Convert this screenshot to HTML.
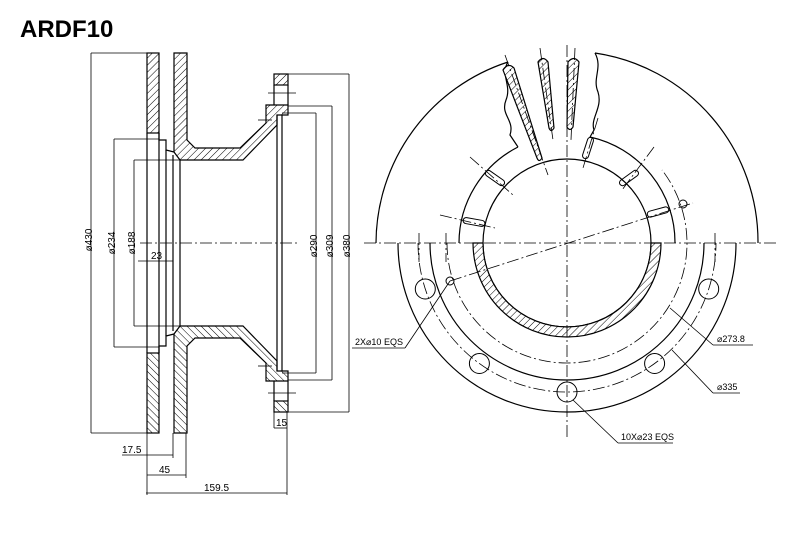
<!DOCTYPE html>
<html><head><meta charset="utf-8"><style>
html,body{margin:0;padding:0;background:#fff;width:800px;height:547px;overflow:hidden}
svg{display:block}
text{font-family:"Liberation Sans",sans-serif;fill:#000}
</style></head><body>
<svg width="800" height="547" viewBox="0 0 800 547" xmlns="http://www.w3.org/2000/svg">
<defs>
<pattern id="h" width="5" height="5" patternUnits="userSpaceOnUse" patternTransform="rotate(45)">
<rect width="5" height="5" fill="#fff"/><line x1="0" y1="0" x2="0" y2="5" stroke="#000" stroke-width="1"/>
</pattern>
</defs>
<text x="20" y="37" font-size="24" font-weight="bold">ARDF10</text>

<g fill="none" stroke="#000" stroke-width="1.2">
<!-- LEFT VIEW upper half -->
<g id="up">
<rect x="147" y="53" width="12" height="80" fill="url(#h)"/>
<polygon points="174,53 187,53 187,140 195,148 240,148 266,123 266,105 288,105 288,115 277,115 277,125 243,160 180,160 174,152" fill="url(#h)"/>
<rect x="274" y="74" width="14" height="11" fill="url(#h)"/>
<polyline points="274,85 274,105"/><polyline points="288,85 288,105"/>
<polyline points="159,133 159,140 166,140 166,150 174,152"/>
<line x1="159" y1="133" x2="159" y2="243"/>
<line x1="166" y1="150" x2="166" y2="243"/>
<line x1="173" y1="155" x2="173" y2="243"/>
<line x1="277" y1="115" x2="277" y2="243"/>
<line x1="282" y1="115" x2="282" y2="243"/>
<line x1="147" y1="133" x2="147" y2="243"/>
<line x1="180" y1="160" x2="180" y2="243"/>
<g stroke-width="0.8">
<line x1="91" y1="53" x2="147" y2="53"/>
<line x1="114" y1="139" x2="159" y2="139"/>
<line x1="134" y1="160" x2="180" y2="160"/>
<line x1="282" y1="113" x2="316" y2="113"/>
<line x1="288" y1="106" x2="332" y2="106"/>
<line x1="288" y1="74" x2="349" y2="74"/>
<line x1="268" y1="93" x2="296" y2="93"/>
<line x1="258" y1="120" x2="272" y2="120"/>
</g>
</g>
<use href="#up" transform="translate(0,486) scale(1,-1)"/>
<!-- dims -->
<g stroke-width="0.8">
<line x1="91" y1="53" x2="91" y2="433"/>
<line x1="114" y1="139" x2="114" y2="347"/>
<line x1="134" y1="160" x2="134" y2="326"/>
<line x1="316" y1="113" x2="316" y2="373"/>
<line x1="332" y1="106" x2="332" y2="380"/>
<line x1="349" y1="74" x2="349" y2="412"/>
<line x1="138" y1="261" x2="173" y2="261"/>
<line x1="122" y1="455" x2="173" y2="455"/>
<line x1="147" y1="475" x2="186" y2="475"/>
<line x1="146" y1="493" x2="287" y2="493"/>
<line x1="147" y1="433" x2="147" y2="495"/>
<line x1="173" y1="433" x2="173" y2="458"/>
<line x1="186" y1="433" x2="186" y2="478"/>
<line x1="287" y1="412" x2="287" y2="495"/>
<line x1="274" y1="412" x2="274" y2="428"/>
<line x1="274" y1="428" x2="287" y2="428"/>
<line x1="140" y1="243" x2="298" y2="243" stroke-dasharray="12,3,2,3"/>
</g>
</g>
<g font-size="10">
<text transform="translate(92,240) rotate(-90)" text-anchor="middle">ø430</text>
<text transform="translate(115,243) rotate(-90)" text-anchor="middle">ø234</text>
<text transform="translate(135,243) rotate(-90)" text-anchor="middle">ø188</text>
<text transform="translate(317,246) rotate(-90)" text-anchor="middle">ø290</text>
<text transform="translate(333,246) rotate(-90)" text-anchor="middle">ø309</text>
<text transform="translate(350,246) rotate(-90)" text-anchor="middle">ø380</text>
<text x="151" y="259">23</text>
<text x="122" y="453">17.5</text>
<text x="159" y="473">45</text>
<text x="204" y="491">159.5</text>
<text x="276" y="426">15</text>
</g>

<!-- RIGHT VIEW -->
<g fill="none" stroke="#000" stroke-width="1.2">
<path d="M376,243 A191,191 0 0 1 508,62"/>
<path d="M595,53 A191,191 0 0 1 758,243"/>
<path d="M508,62 C500,75 512,85 506,100 C500,115 515,120 510,135 L518,147"/>
<path d="M595,53 C603,68 592,78 598,92 C603,108 590,118 594,130 L590,137"/>
<path d="M459,243 A108,108 0 0 1 518,147"/>
<path d="M590,137 A108,108 0 0 1 675,243"/>
<circle cx="567" cy="243" r="84"/>
<path d="M473,243 A94,94 0 0 0 661,243 L651,243 A84,84 0 0 1 483,243 Z" fill="url(#h)"/>
<path d="M398,243 A169,169 0 0 0 736,243"/>
<path d="M430,243 A137,137 0 0 0 704,243"/>
<g fill="url(#h)">
<path d="M503,70 Q508,62 514,68 L542,158 Q539,163 537,158 Z"/>
<path d="M538,62 Q543,55 548,62 L554,128 Q551,133 549,128 Z"/>
<path d="M568,62 Q574,55 579,62 L573,127 Q570,132 567,127 Z"/>
</g>
<g stroke-width="1">
<rect x="-11" y="-3" width="22" height="6" rx="3" transform="translate(588,148) rotate(-72)"/>
<rect x="-11" y="-3" width="22" height="6" rx="3" transform="translate(629,178) rotate(-36)"/>
<rect x="-11" y="-3" width="22" height="6" rx="3" transform="translate(658,212) rotate(-15)"/>
<rect x="-11" y="-3" width="22" height="6" rx="3" transform="translate(495,178) rotate(35)"/>
<rect x="-11" y="-3" width="22" height="6" rx="3" transform="translate(474,222) rotate(10)"/>
</g>
<g stroke-width="1">
<circle cx="708.7" cy="289" r="10"/><circle cx="654.6" cy="363.5" r="10"/>
<circle cx="567" cy="392" r="10"/><circle cx="479.4" cy="363.5" r="10"/>
<circle cx="425.3" cy="289" r="10"/>
<circle cx="450" cy="281" r="4"/><circle cx="683" cy="204" r="4"/>
</g>
<g stroke-width="0.8" stroke-dasharray="12,3,2,3">
<line x1="364" y1="243" x2="776" y2="243"/>
<line x1="567" y1="45" x2="567" y2="440"/>
<line x1="450" y1="281" x2="693" y2="203"/>
<path d="M418,243 A149,149 0 0 0 716,243"/>
<path d="M447,243 A120,120 0 0 0 687,243 A120,120 0 0 0 662,170"/>
<line x1="505" y1="55" x2="548" y2="175"/>
<line x1="540" y1="48" x2="553" y2="140"/>
<line x1="575" y1="48" x2="571" y2="140"/>
<line x1="598" y1="118" x2="583" y2="168"/>
<line x1="654" y1="147" x2="622" y2="190"/>
<line x1="470" y1="157" x2="513" y2="195"/>
<line x1="440" y1="215" x2="495" y2="228"/>
<line x1="419" y1="233" x2="419" y2="262"/>
<line x1="446" y1="233" x2="446" y2="262"/>
<line x1="715" y1="233" x2="715" y2="262"/>
</g>
<g stroke-width="0.8">
<line x1="450" y1="281" x2="405" y2="348"/><line x1="352" y1="348" x2="405" y2="348"/>
<line x1="670" y1="308" x2="713" y2="345"/><line x1="713" y1="345" x2="753" y2="345"/>
<line x1="672" y1="350" x2="713" y2="393"/><line x1="713" y1="393" x2="740" y2="393"/>
<line x1="573" y1="400" x2="618" y2="443"/><line x1="618" y1="443" x2="673" y2="443"/>
</g>
</g>
<g font-size="9">
<text x="355" y="345">2X⌀10 EQS</text>
<text x="717" y="342">⌀273.8</text>
<text x="717" y="390">⌀335</text>
<text x="621" y="440">10X⌀23 EQS</text>
</g>
</svg>
</body></html>
